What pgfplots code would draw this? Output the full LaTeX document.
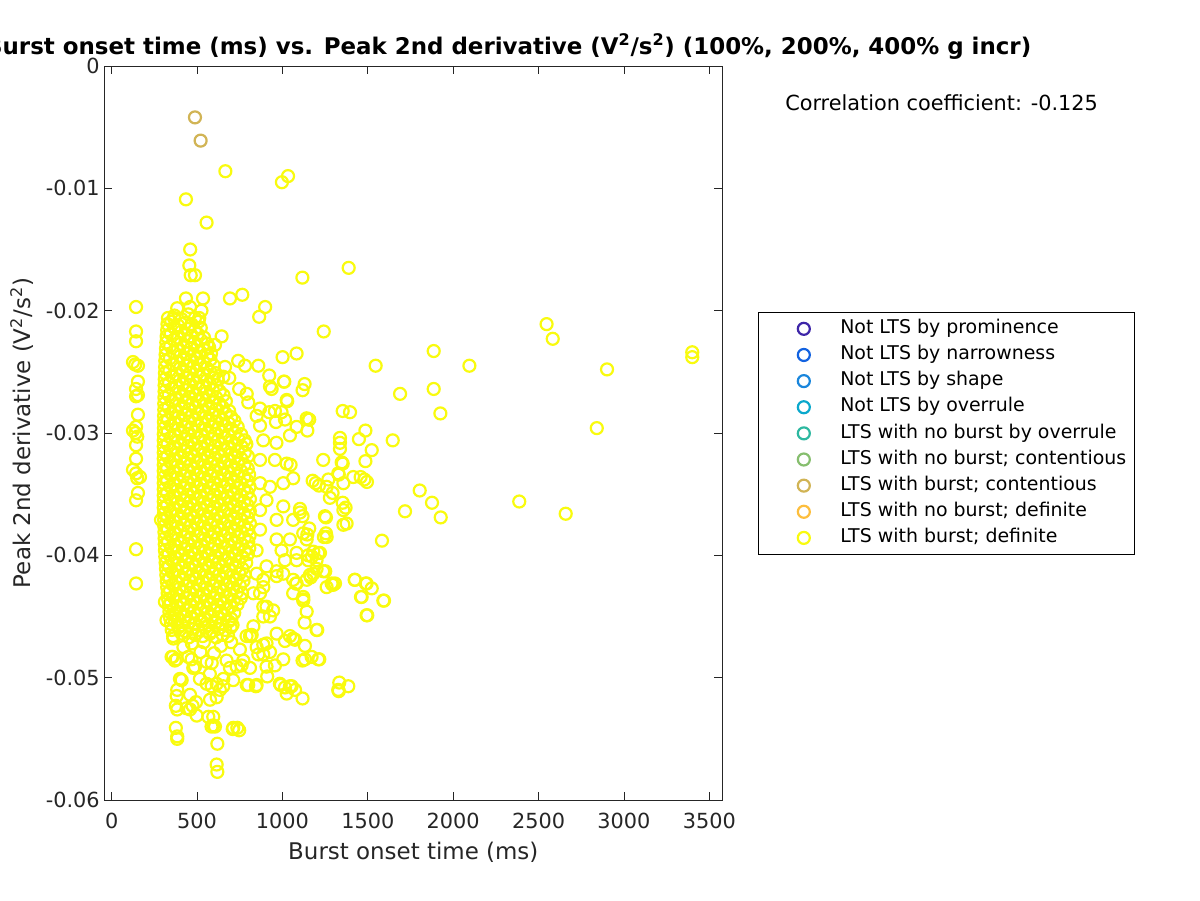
\documentclass[border=0pt]{standalone}
\usepackage{pgfplots}
\pgfplotsset{compat=1.18}
\usepackage{fontspec}
\setmainfont{DejaVu Sans}

\definecolor{axisgray}{RGB}{38,38,38}
\definecolor{c1}{RGB}{62,38,168}
\definecolor{c2}{RGB}{18,98,224}
\definecolor{c3}{RGB}{26,134,220}
\definecolor{c4}{RGB}{10,168,204}
\definecolor{c5}{RGB}{45,184,160}
\definecolor{c6}{RGB}{134,190,110}
\definecolor{c7}{RGB}{209,180,85}
\definecolor{c8}{RGB}{253,190,61}
\definecolor{c9}{RGB}{249,251,14}

\pgfplotsset{
  ltsmark/.style={only marks, mark=o, mark size=4.5pt,
    mark options={line width=1.65pt},
    legend image code/.code={\path (-27.75pt,0pt); \draw[##1] plot coordinates {(0pt,0pt)};}},
}

\begin{document}
\begin{tikzpicture}
\path[use as bounding box, fill=white] (0pt,0pt) rectangle (900pt,-675pt);
\begin{axis}[
    at={(78.225pt,-600pt)}, anchor=south west,
    scale only axis, width=463.5pt, height=550.5pt,
    xmin=-43, xmax=3576, ymin=-0.06, ymax=0,
    xtick={0,500,1000,1500,2000,2500,3000,3500},
    xticklabels={0,500,1000,1500,2000,2500,3000,3500},
    ytick={-0.06,-0.05,-0.04,-0.03,-0.02,-0.01,0},
    yticklabels={-0.06,-0.05,-0.04,-0.03,-0.02,-0.01,0},
    scaled ticks=false,
    tick align=inside, major tick length=6pt,
    tick style={axisgray, line width=0.6pt},
    axis line style={axisgray, line width=0.6pt},
    ticklabel style={font=\fontsize{15.6}{18}\selectfont, text=axisgray},
    xticklabel style={yshift=-6.5pt},
    clip=false,
    xlabel={Burst onset time (ms)},
    ylabel={Peak 2nd derivative (V\textsuperscript{2}/s\textsuperscript{2})},
    label style={font=\fontsize{17.2}{20}\selectfont, text=axisgray},
    xlabel style={at={(axis description cs:0.5,-0.0708)}, anchor=center},
    ylabel style={at={(axis description cs:-0.1332,0.5)}, anchor=center},
    title={Burst onset time (ms) vs. Peak 2nd derivative (V\textsuperscript{2}/s\textsuperscript{2}) (100\%, 200\%, 400\% g incr)},
    title style={at={(axis description cs:1.5075,1.0054)}, anchor=base east,
      font=\bfseries\fontsize{17.2}{20}\selectfont},
    legend style={at={(1.0578,0.6649)}, anchor=north west, draw=black,
      line width=0.6pt, fill=white, inner xsep=6pt, inner ysep=5.35pt,
      row sep=5.6pt, column sep=22.85pt,
      font=\fontsize{14.2}{17}\selectfont,
      nodes={inner sep=0pt, text height=10.5pt, text depth=3.5pt}},
    legend cell align=left,
]
\addlegendimage{ltsmark, color=c1}
\addlegendentry{Not LTS by prominence}
\addlegendimage{ltsmark, color=c2}
\addlegendentry{Not LTS by narrowness}
\addlegendimage{ltsmark, color=c3}
\addlegendentry{Not LTS by shape}
\addlegendimage{ltsmark, color=c4}
\addlegendentry{Not LTS by overrule}
\addlegendimage{ltsmark, color=c5}
\addlegendentry{LTS with no burst by overrule}
\addlegendimage{ltsmark, color=c6}
\addlegendentry{LTS with no burst; contentious}

% LTS with burst; contentious
\addplot[ltsmark, color=c7] coordinates {(488,-.0042)(521,-.0061)};
\addlegendentry{LTS with burst; contentious}

\addlegendimage{ltsmark, color=c8}
\addlegendentry{LTS with no burst; definite}

% LTS with burst; definite
\addplot[ltsmark, color=c9] coordinates {
% outliers near the top
(666,-.0086)(997,-.0095)(1033,-.0090)(435,-.0109)(556,-.0128)(460,-.0150)(455,-.0163)
(463,-.0171)(488,-.0171)(1117,-.0173)(1388,-.0165)
(765,-.0187)(693,-.0190)(535,-.0190)(435,-.0190)(899,-.0197)(864,-.0205)(384,-.0198)
(459,-.0197)(526,-.0200)(365,-.0206)(513,-.0206)(644,-.0221)(605,-.0228)(1242,-.0217)
% column near 143 ms
(143,-.0197)(143,-.0217)(143,-.0225)(125,-.0242)(138,-.0244)(154,-.0245)(154,-.0258)
(143,-.0264)(154,-.0269)(143,-.0270)(154,-.0285)(143,-.0295)(125,-.0298)(140,-.0300)
(150,-.0303)(143,-.0310)(143,-.0321)(125,-.0330)(143,-.0333)(166,-.0336)(150,-.0337)
(154,-.0349)(143,-.0355)(143,-.0395)(143,-.0423)(289,-.0371)
% far right
(2547,-.0211)(2583,-.0223)(1886,-.0233)(2095,-.0245)(2901,-.0248)(3400,-.0234)(3400,-.0238)
(1886,-.0264)(1925,-.0284)(2841,-.0296)(1689,-.0268)(1804,-.0347)(1876,-.0357)(1927,-.0369)
(2387,-.0356)(2659,-.0366)(1718,-.0364)
% 900 to 1700 ms
(1083,-.0235)(1001,-.0238)(1546,-.0245)(1011,-.0258)(1130,-.0260)(1118,-.0265)(1025,-.0273)
(1353,-.0282)(1396,-.0283)(1154,-.0289)(1146,-.0298)(1486,-.0298)(1448,-.0305)(1646,-.0306)
(1337,-.0308)(1337,-.0313)(1523,-.0314)(1239,-.0322)(1353,-.0325)(1486,-.0323)(1048,-.0326)
(1583,-.0388)(1423,-.0420)(1488,-.0423)(1523,-.0427)(1460,-.0434)(1595,-.0437)(1497,-.0449)
(1255,-.0369)(1376,-.0374)(1370,-.0361)(1353,-.0357)(1243,-.0385)(1255,-.0382)(1458,-.0336)
(1415,-.0336)(1330,-.0334)(1269,-.0338)(1195,-.0341)(1357,-.0341)(1214,-.0343)(1157,-.0378)
(1146,-.0383)(1220,-.0398)(1173,-.0401)(1251,-.0413)(1294,-.0424)(1259,-.0426)(1166,-.0418)
(1079,-.0423)(1122,-.0436)(1142,-.0446)(1130,-.0455)(1204,-.0461)(1132,-.0474)(1118,-.0486)
(1216,-.0485)(1171,-.0483)(1044,-.0466)(1015,-.0470)(1074,-.0469)(1333,-.0504)(1386,-.0507)
(1330,-.0511)(985,-.0505)(1044,-.0507)(1074,-.0510)(1118,-.0517)(1025,-.0513)(1480,-.0338)
(1495,-.0340)(1337,-.0304)(1357,-.0363)(1357,-.0375)(1347,-.0324)(1327,-.0333)(1177,-.0339)
(1259,-.0344)(1294,-.0349)(1278,-.0353)(1249,-.0368)(1259,-.0385)(1103,-.0362)(1118,-.0368)
(1142,-.0387)(1181,-.0397)(1210,-.0398)(1151,-.0404)(1200,-.0411)(1161,-.0416)(1239,-.0413)
(1288,-.0423)(1308,-.0423)(1122,-.0434)(995,-.0396)(1083,-.0404)(1151,-.0400)(1181,-.0415)
(1298,-.0424)(1083,-.0423)(1425,-.0420)(1493,-.0423)(1464,-.0434)(1591,-.0437)(1493,-.0449)
(1122,-.0437)(1200,-.0461)(1327,-.0510)
% ring band right of the dense core
(741,-.0241)(781,-.0245)(859,-.0245)(923,-.0253)(927,-.0262)(1009,-.0258)(937,-.0264)
(1028,-.0274)(1157,-.0289)(664,-.0246)(654,-.0254)(689,-.0255)(747,-.0264)(791,-.0268)
(800,-.0275)(869,-.0280)(849,-.0286)(923,-.0283)(995,-.0283)(956,-.0282)(1015,-.0289)
(962,-.0291)(1142,-.0288)(1083,-.0295)(869,-.0294)(965,-.0308)(1044,-.0302)(1025,-.0325)
(956,-.0322)(1063,-.0337)(1005,-.0341)(927,-.0344)(907,-.0355)(1005,-.0360)(1063,-.0371)
(966,-.0371)(1103,-.0365)(1122,-.0382)(1044,-.0387)(966,-.0387)(1083,-.0398)(1015,-.0404)
(907,-.0409)(966,-.0417)(1200,-.0404)(1063,-.0420)(888,-.0426)(1142,-.0420)(1063,-.0431)
(888,-.0442)(927,-.0450)(869,-.0431)(849,-.0415)(849,-.0396)(869,-.0379)(869,-.0363)
(869,-.0341)(869,-.0322)(888,-.0306)(907,-.0442)(946,-.0445)(888,-.0420)(966,-.0413)
(1005,-.0415)(830,-.0431)(830,-.0458)(888,-.0450)
% lower tail
(361,-.0468)(357,-.0483)(381,-.0485)(400,-.0501)(384,-.0510)(381,-.0515)(376,-.0523)
(384,-.0526)(439,-.0525)(474,-.0523)(498,-.0531)(376,-.0541)(384,-.0548)(384,-.0550)
(566,-.0532)(605,-.0540)(585,-.0540)(709,-.0542)(736,-.0541)(747,-.0543)(619,-.0554)
(615,-.0571)(619,-.0577)(576,-.0518)(615,-.0516)(634,-.0510)(586,-.0507)(556,-.0505)
(791,-.0506)(845,-.0507)(990,-.0506)(1015,-.0508)(1054,-.0507)(810,-.0492)(761,-.0490)
(693,-.0492)(586,-.0488)(556,-.0487)(468,-.0485)(478,-.0492)(410,-.0502)(459,-.0514)
(494,-.0520)(911,-.0499)(966,-.0464)(1063,-.0468)(1132,-.0485)(1210,-.0485)(820,-.0465)
(888,-.0473)(859,-.0481)(927,-.0479)(956,-.0490)(1005,-.0485)(810,-.0466)(849,-.0475)
(907,-.0472)(888,-.0481)(771,-.0486)(732,-.0491)(907,-.0491)(800,-.0506)(849,-.0506)
(615,-.0505)(654,-.0507)(517,-.0501)(459,-.0526)(595,-.0532)(595,-.0539)(712,-.0541)
(321,-.0453)(312,-.0438)(351,-.0483)(370,-.0486)(449,-.0483)(488,-.0491)(575,-.0497)
(654,-.0501)(712,-.0502)(673,-.0486)(751,-.0477)(790,-.0466)(700,-.0471)(640,-.0474)
(540,-.0471)(470,-.0472)(420,-.0475)(600,-.0480)(520,-.0479)
% dense core
(330,-.0206)(368,-.0204)(410,-.0207)(449,-.0203)(488,-.0206)
(327,-.0211)(349,-.0209)(389,-.0212)(430,-.0210)(468,-.0211)(509,-.0209)
(325,-.0216)(367,-.0214)(408,-.0217)(447,-.0215)(487,-.0216)(522,-.0214)
(322,-.0221)(346,-.0219)(386,-.0222)(427,-.0220)(466,-.0221)(505,-.0219)(541,-.0222)
(320,-.0226)(364,-.0224)(404,-.0227)(444,-.0225)(484,-.0226)(523,-.0224)(561,-.0227)
(318,-.0231)(343,-.0229)(384,-.0232)(423,-.0230)(463,-.0231)(503,-.0229)(542,-.0232)(571,-.0230)
(316,-.0236)(362,-.0234)(402,-.0237)(441,-.0235)(482,-.0236)(521,-.0234)(560,-.0237)(582,-.0235)
(314,-.0241)(341,-.0239)(381,-.0242)(421,-.0240)(460,-.0241)(500,-.0239)(540,-.0242)(579,-.0240)
(313,-.0246)(359,-.0244)(400,-.0247)(439,-.0245)(479,-.0246)(519,-.0244)(558,-.0247)(599,-.0245)
(312,-.0251)(338,-.0249)(379,-.0252)(418,-.0250)(458,-.0251)(498,-.0249)(537,-.0252)(577,-.0250)(609,-.0251)
(311,-.0256)(357,-.0254)(397,-.0257)(437,-.0255)(476,-.0256)(516,-.0254)(556,-.0257)(596,-.0255)(620,-.0256)
(310,-.0261)(336,-.0259)(377,-.0262)(416,-.0260)(455,-.0261)(495,-.0259)(535,-.0262)(575,-.0260)(614,-.0261)
(310,-.0266)(355,-.0264)(395,-.0267)(434,-.0265)(474,-.0266)(514,-.0264)(553,-.0267)(593,-.0265)(633,-.0266)
(309,-.0271)(334,-.0269)(374,-.0272)(413,-.0270)(453,-.0271)(493,-.0269)(532,-.0272)(572,-.0270)(612,-.0271)(655,-.0269)
(308,-.0276)(353,-.0274)(393,-.0277)(432,-.0275)(472,-.0276)(511,-.0274)(551,-.0277)(591,-.0275)(631,-.0276)(669,-.0274)
(308,-.0281)(332,-.0279)(372,-.0282)(411,-.0280)(451,-.0281)(490,-.0279)(530,-.0282)(570,-.0280)(610,-.0281)(650,-.0279)(688,-.0282)
(307,-.0286)(351,-.0284)(390,-.0287)(430,-.0285)(469,-.0286)(509,-.0284)(549,-.0287)(589,-.0285)(628,-.0286)(668,-.0284)(700,-.0287)
(306,-.0291)(330,-.0289)(370,-.0292)(409,-.0290)(449,-.0291)(488,-.0289)(528,-.0292)(567,-.0290)(607,-.0291)(647,-.0289)(686,-.0292)(719,-.0290)
(306,-.0296)(349,-.0294)(388,-.0297)(428,-.0295)(467,-.0296)(507,-.0294)(546,-.0297)(586,-.0295)(626,-.0296)(665,-.0294)(705,-.0297)(738,-.0295)
(305,-.0301)(328,-.0299)(368,-.0302)(407,-.0300)(447,-.0301)(486,-.0299)(526,-.0302)(565,-.0300)(605,-.0301)(644,-.0299)(684,-.0302)(723,-.0300)(758,-.0301)
(305,-.0306)(347,-.0304)(386,-.0307)(426,-.0305)(465,-.0306)(505,-.0304)(544,-.0307)(584,-.0305)(623,-.0306)(663,-.0304)(702,-.0307)(742,-.0305)(779,-.0306)
(305,-.0311)(327,-.0309)(366,-.0312)(406,-.0310)(445,-.0311)(484,-.0309)(524,-.0312)(563,-.0310)(603,-.0311)(642,-.0309)(682,-.0312)(721,-.0310)(761,-.0311)(789,-.0309)
(305,-.0316)(346,-.0314)(385,-.0317)(425,-.0315)(464,-.0316)(503,-.0314)(543,-.0317)(582,-.0315)(622,-.0316)(661,-.0314)(701,-.0317)(740,-.0315)(780,-.0316)
(305,-.0321)(326,-.0319)(365,-.0322)(404,-.0320)(444,-.0321)(483,-.0319)(523,-.0322)(562,-.0320)(601,-.0321)(641,-.0319)(680,-.0322)(720,-.0320)(759,-.0321)(798,-.0319)
(305,-.0326)(345,-.0324)(384,-.0327)(424,-.0325)(463,-.0326)(502,-.0324)(542,-.0327)(581,-.0325)(621,-.0326)(660,-.0324)(699,-.0327)(739,-.0325)(778,-.0326)
(305,-.0331)(325,-.0329)(364,-.0332)(403,-.0330)(443,-.0331)(482,-.0329)(521,-.0332)(561,-.0330)(600,-.0331)(640,-.0329)(679,-.0332)(718,-.0330)(758,-.0331)(797,-.0329)
(305,-.0336)(344,-.0334)(383,-.0337)(423,-.0335)(462,-.0336)(501,-.0334)(541,-.0337)(580,-.0335)(620,-.0336)(659,-.0334)(698,-.0337)(738,-.0335)(777,-.0336)(805,-.0334)
(305,-.0341)(325,-.0339)(364,-.0342)(403,-.0340)(442,-.0341)(482,-.0339)(521,-.0342)(560,-.0340)(600,-.0341)(639,-.0339)(678,-.0342)(718,-.0340)(757,-.0341)(796,-.0339)
(305,-.0346)(344,-.0344)(383,-.0347)(422,-.0345)(462,-.0346)(501,-.0344)(540,-.0347)(580,-.0345)(619,-.0346)(658,-.0344)(698,-.0347)(737,-.0345)(776,-.0346)(808,-.0344)
(305,-.0351)(325,-.0349)(364,-.0352)(403,-.0350)(442,-.0351)(481,-.0349)(521,-.0352)(560,-.0350)(599,-.0351)(639,-.0349)(678,-.0352)(717,-.0350)(757,-.0351)(796,-.0349)
(305,-.0356)(344,-.0354)(383,-.0357)(422,-.0355)(462,-.0356)(501,-.0354)(540,-.0357)(579,-.0355)(619,-.0356)(658,-.0354)(697,-.0357)(737,-.0355)(776,-.0356)(810,-.0354)
(305,-.0361)(325,-.0359)(364,-.0362)(403,-.0360)(442,-.0361)(481,-.0359)(520,-.0362)(560,-.0360)(599,-.0361)(638,-.0359)(678,-.0362)(717,-.0360)(756,-.0361)(796,-.0359)
(306,-.0366)(344,-.0364)(383,-.0367)(423,-.0365)(462,-.0366)(501,-.0364)(540,-.0367)(580,-.0365)(619,-.0366)(658,-.0364)(698,-.0367)(737,-.0365)(776,-.0366)(809,-.0364)
(307,-.0371)(326,-.0369)(365,-.0372)(404,-.0370)(443,-.0371)(482,-.0369)(521,-.0372)(561,-.0370)(600,-.0371)(639,-.0369)(678,-.0372)(718,-.0370)(757,-.0371)(797,-.0369)
(308,-.0376)(345,-.0374)(384,-.0377)(424,-.0375)(463,-.0376)(502,-.0374)(541,-.0377)(581,-.0375)(620,-.0376)(659,-.0374)(699,-.0377)(738,-.0375)(777,-.0376)(810,-.0374)
(309,-.0381)(328,-.0379)(367,-.0382)(406,-.0380)(445,-.0381)(484,-.0379)(523,-.0382)(563,-.0380)(602,-.0381)(641,-.0379)(680,-.0382)(720,-.0380)(759,-.0381)(798,-.0379)
(310,-.0386)(347,-.0384)(386,-.0387)(425,-.0385)(465,-.0386)(504,-.0384)(543,-.0387)(583,-.0385)(622,-.0386)(661,-.0384)(700,-.0387)(740,-.0385)(779,-.0386)(808,-.0384)
(311,-.0391)(330,-.0389)(369,-.0392)(408,-.0390)(447,-.0391)(486,-.0389)(526,-.0392)(565,-.0390)(604,-.0391)(643,-.0389)(683,-.0392)(722,-.0390)(761,-.0391)(800,-.0389)
(312,-.0396)(349,-.0394)(388,-.0397)(427,-.0395)(467,-.0396)(506,-.0394)(545,-.0397)(585,-.0395)(624,-.0396)(663,-.0394)(703,-.0397)(742,-.0395)(781,-.0396)(806,-.0394)
(314,-.0401)(333,-.0399)(372,-.0402)(411,-.0400)(450,-.0401)(489,-.0399)(529,-.0402)(568,-.0400)(607,-.0401)(646,-.0399)(686,-.0402)(725,-.0400)(764,-.0401)(798,-.0399)
(316,-.0406)(352,-.0404)(391,-.0407)(430,-.0405)(470,-.0406)(509,-.0404)(548,-.0407)(588,-.0405)(627,-.0406)(666,-.0404)(706,-.0407)(745,-.0405)(788,-.0406)
(318,-.0411)(336,-.0409)(375,-.0412)(414,-.0410)(453,-.0411)(492,-.0409)(532,-.0412)(571,-.0410)(610,-.0411)(649,-.0409)(689,-.0412)(728,-.0410)(766,-.0411)
(320,-.0416)(355,-.0414)(394,-.0417)(433,-.0415)(473,-.0416)(512,-.0414)(551,-.0417)(591,-.0415)(630,-.0416)(669,-.0414)(709,-.0417)(748,-.0415)(779,-.0416)
(322,-.0421)(339,-.0419)(378,-.0422)(417,-.0420)(456,-.0421)(495,-.0419)(535,-.0422)(574,-.0420)(613,-.0421)(652,-.0419)(692,-.0422)(731,-.0420)(772,-.0421)
(325,-.0426)(358,-.0424)(397,-.0427)(436,-.0425)(476,-.0426)(515,-.0424)(554,-.0427)(594,-.0425)(633,-.0426)(672,-.0424)(712,-.0427)(751,-.0425)
(328,-.0431)(342,-.0429)(381,-.0432)(420,-.0430)(459,-.0431)(498,-.0429)(538,-.0432)(577,-.0430)(616,-.0431)(655,-.0429)(695,-.0432)(734,-.0430)(764,-.0431)
(331,-.0436)(361,-.0434)(400,-.0437)(439,-.0435)(479,-.0436)(518,-.0434)(557,-.0437)(597,-.0435)(636,-.0436)(675,-.0434)(715,-.0437)(756,-.0435)
(334,-.0441)(345,-.0439)(384,-.0442)(423,-.0440)(462,-.0441)(501,-.0439)(541,-.0442)(580,-.0440)(619,-.0441)(658,-.0439)(698,-.0442)(737,-.0440)
(338,-.0446)(364,-.0444)(403,-.0447)(442,-.0445)(482,-.0446)(521,-.0444)(560,-.0447)(600,-.0445)(639,-.0446)(678,-.0444)(718,-.0447)
(342,-.0451)(368,-.0449)(387,-.0452)(426,-.0450)(465,-.0451)(504,-.0449)(544,-.0452)(583,-.0450)(622,-.0451)(661,-.0449)(701,-.0452)
(347,-.0456)(372,-.0454)(411,-.0457)(450,-.0455)(490,-.0456)(529,-.0454)(568,-.0457)(608,-.0455)(647,-.0456)(686,-.0454)(708,-.0457)
(352,-.0461)(391,-.0459)(430,-.0462)(469,-.0460)(508,-.0461)(548,-.0459)(587,-.0462)(626,-.0460)(665,-.0461)(697,-.0459)
(360,-.0466)(410,-.0464)(452,-.0467)(491,-.0465)(533,-.0466)(575,-.0464)(612,-.0467)(650,-.0465)(682,-.0466)
};
\addlegendentry{LTS with burst; definite}

\node[anchor=base west, inner sep=0pt, font=\fontsize{15.6}{18}\selectfont, text=black]
  at (axis description cs:1.1015,0.9387) {Correlation coefficient: -0.125};
\end{axis}
\end{tikzpicture}
\end{document}
